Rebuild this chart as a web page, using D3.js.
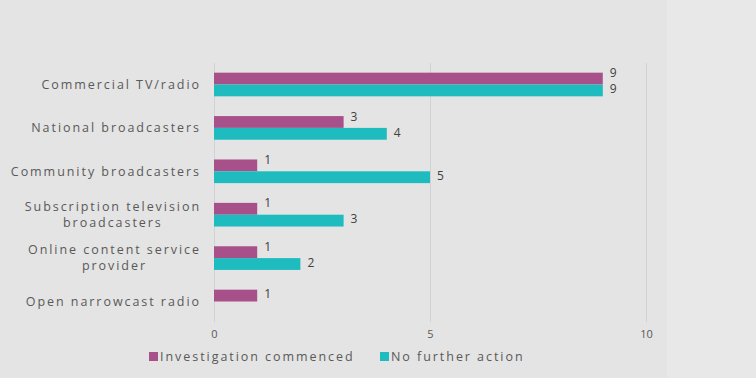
<!DOCTYPE html>
<html><head><meta charset="utf-8">
<script src="https://cdn.jsdelivr.net/npm/d3@7"></script>
<style>
html,body{margin:0;padding:0;background:#e8e8e8;}
svg{display:block;font-family:"Open Sans",sans-serif;}
</style></head>
<body><svg id="c" width="756" height="378"></svg>
<script>
const categories = [
  ["Commercial TV/radio"],
  ["National broadcasters"],
  ["Community broadcasters"],
  ["Subscription television", "broadcasters"],
  ["Online content service", "provider"],
  ["Open narrowcast radio"]
];
const investigation = [9, 3, 1, 1, 1, 1];
const noFurther = [9, 4, 5, 3, 2, null];
const seriesNames = ["Investigation commenced", "No further action"];
const colors = ["#a8508a", "#1fbcbf"];
const xTicks = [0, 5, 10];

const svg = d3.select("#c");
svg.append("rect").attr("x",0).attr("y",0).attr("width",667).attr("height",378).attr("fill","#e4e4e4");

const x = d3.scaleLinear().domain([0,10]).range([214,646]);
const keys = categories.map((c,i)=>i);
const y = d3.scaleBand().domain(keys).range([62.8,323.2]).paddingInner(0.455).paddingOuter(0.2275);
const ySub = d3.scaleBand().domain([0,1]).range([0,y.bandwidth()]);

// gridlines
svg.append("g").selectAll("line").data(xTicks).join("line")
  .attr("x1",d=>x(d)+0.5).attr("x2",d=>x(d)+0.5)
  .attr("y1",63).attr("y2",322)
  .attr("stroke","#d2d2d2").attr("stroke-width",1);

// axis tick labels
const xAxis = d3.axisBottom(x).tickValues(xTicks).tickSize(0).tickPadding(0);
const ax = svg.append("g").attr("transform","translate(0,330)").call(xAxis);
ax.select(".domain").remove();
ax.selectAll("text").attr("font-size",11).attr("fill","#595959").attr("font-family","Open Sans, sans-serif");

// category labels
const lab = svg.append("g");
categories.forEach((lines,i)=>{
  const cy = y(i)+y.bandwidth()/2;
  const t = lab.append("text").attr("text-anchor","middle")
    .attr("font-size",12.5).attr("fill","#595959").attr("letter-spacing","1.95px");
  const n = lines.length;
  lines.forEach((s,j)=>{
    t.append("tspan").attr("x",0).attr("y",cy + (j-(n-1)/2)*16).attr("dy","0.35em").text(s);
  });
  const w = t.node().getBBox().width;
  t.attr("transform",`translate(${200 - w/2 + 1},0)`);
});

// bars
const series = [investigation, noFurther];
series.forEach((vals,si)=>{
  const g = svg.append("g");
  vals.forEach((v,i)=>{
    if(v==null) return;
    const by = y(i)+ySub(si);
    g.append("rect").attr("x",x(0)).attr("y",by).attr("width",x(v)-x(0)).attr("height",ySub.bandwidth()).attr("fill",colors[si]);
    const hasOther = si===0 && noFurther[i]!=null;
    g.append("text").attr("x",x(v)+7).attr("y",by+ySub.bandwidth()/2 - (hasOther?5.5:1.5))
      .attr("dy","0.35em").attr("font-size",12).attr("fill","#404040").text(v);
  });
});

// legend
const leg = svg.append("g");
const legX = [149, 380];
seriesNames.forEach((s,i)=>{
  leg.append("rect").attr("x",legX[i]).attr("y",352).attr("width",9).attr("height",9).attr("fill",colors[i]);
  leg.append("text").attr("x",legX[i]+11).attr("y",356.5).attr("dy","0.35em")
    .attr("font-size",12.5).attr("fill","#595959").attr("letter-spacing","1.95px").text(s);
});
</script></body></html>
